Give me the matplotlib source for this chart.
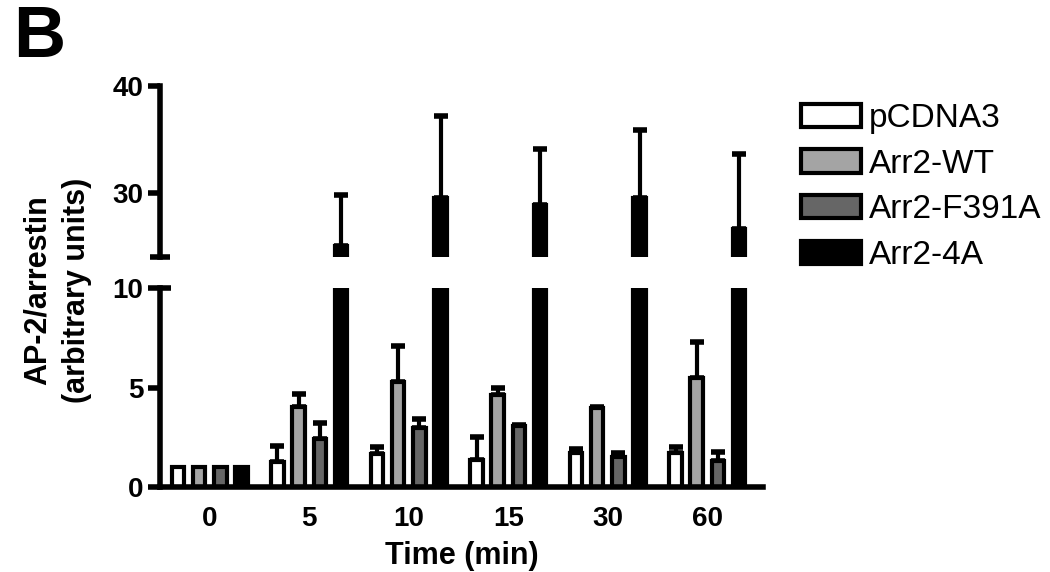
import matplotlib
matplotlib.use("Agg")
import matplotlib.pyplot as plt
import numpy as np
from matplotlib.patches import Patch
from matplotlib.ticker import FixedLocator

plt.rcParams["font.family"] = ["Liberation Sans", "DejaVu Sans"]
plt.rcParams["font.weight"] = "bold"

# values (mean, upward SEM)
times = ["0", "5", "10", "15", "30", "60"]
groups = ["pCDNA3", "Arr2-WT", "Arr2-F391A", "Arr2-4A"]
pcdna3 = [1.0, 1.27, 1.66, 1.36, 1.70, 1.70]
pcdna3_err = [0, 0.79, 0.34, 1.14, 0.20, 0.30]
wt = [1.0, 4.02, 5.28, 4.60, 3.97, 5.50]
wt_err = [0, 0.65, 1.82, 0.37, 0.05, 1.80]
f391a = [1.0, 2.41, 2.96, 3.05, 1.50, 1.30]
f391a_err = [0, 0.79, 0.44, 0.05, 0.20, 0.46]
arr4a = [1.0, 25.0, 29.5, 28.9, 29.5, 26.6]
arr4a_err = [0, 4.8, 7.7, 5.2, 6.4, 7.0]
colors = ["white", "#a4a4a4", "#666666", "black"]

means = [pcdna3, wt, f391a, arr4a]
errs = [pcdna3_err, wt_err, f391a_err, arr4a_err]

x = np.arange(len(times))
pitch = 0.213
width = 0.125

fig = plt.figure(figsize=(10.5, 5.72), dpi=100)
ax_top = fig.add_axes([0.1524, 0.5507, 0.5743, 0.2990])
ax_bot = fig.add_axes([0.1524, 0.1486, 0.5743, 0.3479])

for ax in (ax_top, ax_bot):
    for i, (m, e, c) in enumerate(zip(means, errs, colors)):
        xpos = x + (i - 1.5) * pitch
        m = np.array(m, float)
        e = np.array(e, float)
        ax.bar(xpos, m, width, color=c, edgecolor="black", linewidth=3, zorder=2)
        mask = e > 0
        ax.errorbar(xpos[mask], m[mask], yerr=[np.zeros(mask.sum()), e[mask]],
                    fmt="none", ecolor="black", elinewidth=3, capsize=5,
                    capthick=4, zorder=1)
    ax.set_xlim(-0.5, 5.56)
    ax.spines["top"].set_visible(False)
    ax.spines["right"].set_visible(False)
    ax.spines["left"].set_linewidth(4)
    ax.tick_params(axis="y", which="major", direction="out", length=9, width=4,
                   labelsize=20, pad=3)

ax_top.set_ylim(24, 40)
ax_top.set_yticks([30, 40])
ax_top.spines["bottom"].set_visible(False)
ax_top.set_xticks([])
ax_top.yaxis.set_minor_locator(FixedLocator([24]))
ax_top.tick_params(axis="y", which="minor", direction="inout", length=14, width=4)

ax_bot.set_ylim(0, 10)
ax_bot.set_yticks([0, 5, 10])
ax_bot.spines["bottom"].set_linewidth(4)
ax_bot.yaxis.remove_overlapping_locs = False
ax_bot.yaxis.set_minor_locator(FixedLocator([10]))
ax_bot.tick_params(axis="y", which="minor", direction="in", length=8, width=4)
ax_bot.set_xticks(x, times)
ax_bot.tick_params(axis="x", length=0, labelsize=20, pad=14)
ax_bot.set_xlabel("Time (min)", fontsize=22, fontweight="bold", labelpad=6)

fig.text(57 / 1050, 1 - 290 / 572, "AP-2/arrestin\n(arbitrary units)", rotation=90,
         ha="center", va="center", fontsize=22, fontweight="bold", linespacing=1.4)
fig.text(13 / 1050, 1 - 57 / 572, "B", fontsize=52, fontweight="bold", va="baseline")

handles = [Patch(facecolor=c, edgecolor="black", linewidth=3) for c in colors]
fig.legend(handles, groups, loc="upper left", bbox_to_anchor=(801 / 1050, 1 - 103 / 572),
           frameon=False, prop={"size": 24, "weight": "normal"}, handlelength=1.8,
           handleheight=0.69, handletextpad=0.24, labelspacing=0.44, borderpad=0,
           borderaxespad=0)

fig.savefig("out.png", dpi=100)
